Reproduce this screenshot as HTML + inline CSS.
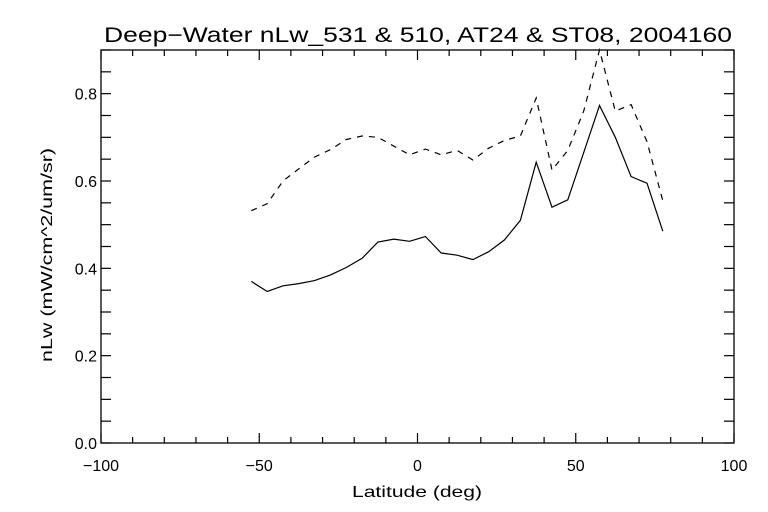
<!DOCTYPE html><html><head><style>body{margin:0;background:#fff}svg{display:block}text{font-family:"Liberation Sans",sans-serif;fill:#000}</style></head><body>
<svg id="s" width="768" height="512" xmlns="http://www.w3.org/2000/svg">
<rect width="768" height="512" fill="#fff"/>
<text x="104" y="42" font-size="21" textLength="628" lengthAdjust="spacingAndGlyphs">Deep−Water nLw_531 &amp; 510, AT24 &amp; ST08, 2004160</text>
<text x="352" y="497" font-size="16" textLength="130" lengthAdjust="spacingAndGlyphs">Latitude (deg)</text>
<text transform="translate(52,362) rotate(-90)" font-size="16" textLength="214" lengthAdjust="spacingAndGlyphs">nLw (mW/cm^2/um/sr)</text>
<rect x="101" y="50" width="633" height="393" fill="none" stroke="#000" stroke-width="1.3"/>
<g id="t" stroke="#000" stroke-width="1.2"></g>
<g id="l" font-size="16"></g>
<polyline id="p1" fill="none" stroke="#000" stroke-width="1.2"/>
<polyline id="p2" fill="none" stroke="#000" stroke-width="1.2" stroke-dasharray="6,6"/>
</svg>
<script>
var X=d=>101+(d+100)*633/200, Y=v=>443-v*393/0.9;
var t=document.getElementById('t'),l=document.getElementById('l'),h='',g='';
for(var d=-100;d<=100;d+=10){var x=X(d),L=d%50==0?10:6;h+=`<line x1="${x}" y1="443" x2="${x}" y2="${443-L}"/><line x1="${x}" y1="50" x2="${x}" y2="${50+L}"/>`;if(d%50==0)g+=`<text x="${x}" y="471" text-anchor="middle">${d<0?'−'+(-d):d}</text>`;}
for(var i=0;i<=18;i++){var v=i*0.05,y=Y(v);h+=`<line x1="101" y1="${y}" x2="111" y2="${y}"/><line x1="734" y1="${y}" x2="724" y2="${y}"/>`;if(i%4==0)g+=`<text x="97" y="${y+6}" text-anchor="end">${v.toFixed(1)}</text>`;}
t.innerHTML=h;l.innerHTML=g;
var s=[0.37,0.347,0.36,0.365,0.372,0.385,0.402,0.423,0.46,0.467,0.462,0.473,0.435,0.43,0.42,0.438,0.465,0.51,0.643,0.54,0.557,0.665,0.773,0.70,0.61,0.595,0.485];
var dd=[0.532,0.548,0.6,0.628,0.655,0.672,0.695,0.703,0.70,0.68,0.66,0.673,0.66,0.67,0.648,0.675,0.693,0.703,0.79,0.625,0.67,0.76,0.905,0.76,0.775,0.69,0.555];
function pts(a){return a.map((v,i)=>X(-52.5+5*i).toFixed(1)+','+Math.max(50,Y(v)).toFixed(1)).join(' ')}
document.getElementById('p1').setAttribute('points',pts(s));
document.getElementById('p2').setAttribute('points',pts(dd));
</script></body></html>
